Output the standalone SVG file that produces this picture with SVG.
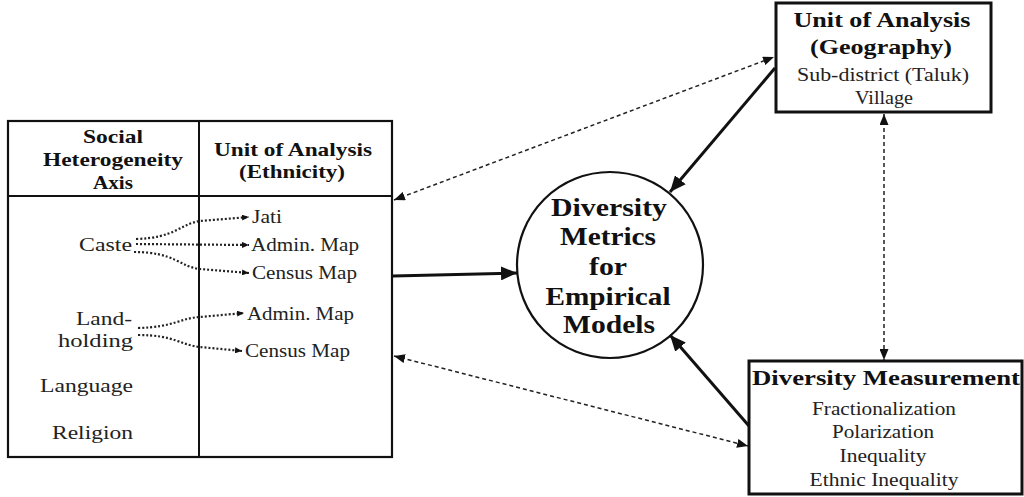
<svg xmlns="http://www.w3.org/2000/svg" width="1024" height="497" viewBox="0 0 1024 497">
<defs>
<style>
.b{font-family:"Liberation Serif","Times New Roman",serif;font-weight:bold;fill:#111}
.r{font-family:"Liberation Serif","Times New Roman",serif;fill:#222}
.m{text-anchor:middle}
.e{text-anchor:end}
.box{fill:#fff;stroke:#111}
.solid{fill:none;stroke:#111;stroke-width:3}
.dash{fill:none;stroke:#222;stroke-width:1.5;stroke-dasharray:4 3}
.dot{fill:none;stroke:#222;stroke-width:2.2;stroke-dasharray:2 2}
</style>
<marker id="hs" markerUnits="userSpaceOnUse" markerWidth="16" markerHeight="14" refX="16" refY="7" orient="auto-start-reverse"><path d="M0,0 L16,7 L0,14 z" fill="#111"/></marker>
<marker id="hd" markerUnits="userSpaceOnUse" markerWidth="11" markerHeight="9" refX="11" refY="4.5" orient="auto-start-reverse"><path d="M0,0 L11,4.5 L0,9 z" fill="#111"/></marker>
<marker id="ht" markerUnits="userSpaceOnUse" markerWidth="7" markerHeight="6" refX="7" refY="3" orient="auto"><path d="M0,0 L7,3 L0,6 z" fill="#111"/></marker>
</defs>
<rect width="1024" height="497" fill="#fff"/>

<g id="table">
<rect class="box" x="8" y="121" width="384" height="336" stroke-width="2.2"/>
<line x1="199" y1="121" x2="199" y2="457" stroke="#111" stroke-width="2"/>
<line x1="8" y1="196" x2="392" y2="196" stroke="#111" stroke-width="2"/>
<g class="b" font-size="19">
<text class="m" x="113" y="143" textLength="60" lengthAdjust="spacingAndGlyphs">Social</text>
<text class="m" x="113" y="166" textLength="140" lengthAdjust="spacingAndGlyphs">Heterogeneity</text>
<text class="m" x="113" y="189" textLength="40" lengthAdjust="spacingAndGlyphs">Axis</text>
<text class="m" x="293" y="156" textLength="158" lengthAdjust="spacingAndGlyphs">Unit of Analysis</text>
<text class="m" x="292" y="178" textLength="106" lengthAdjust="spacingAndGlyphs">(Ethnicity)</text>
</g>
<g class="r" font-size="19">
<text class="e" x="132" y="251" textLength="53" lengthAdjust="spacingAndGlyphs">Caste</text>
<text class="e" x="132" y="325" textLength="56" lengthAdjust="spacingAndGlyphs">Land-</text>
<text class="e" x="133" y="347" textLength="75" lengthAdjust="spacingAndGlyphs">holding</text>
<text class="e" x="133" y="392" textLength="93" lengthAdjust="spacingAndGlyphs">Language</text>
<text class="e" x="133" y="439" textLength="81" lengthAdjust="spacingAndGlyphs">Religion</text>
<text x="252" y="223" textLength="30" lengthAdjust="spacingAndGlyphs">Jati</text>
<text x="251" y="251" textLength="108" lengthAdjust="spacingAndGlyphs">Admin. Map</text>
<text x="252" y="279" textLength="105" lengthAdjust="spacingAndGlyphs">Census Map</text>
<text x="247" y="320" textLength="107" lengthAdjust="spacingAndGlyphs">Admin. Map</text>
<text x="245" y="357" textLength="105" lengthAdjust="spacingAndGlyphs">Census Map</text>
</g>
<g id="table-links">
<path class="dot" d="M136,239 C175,238 180,224 200,221 L249,217" marker-end="url(#ht)"/>
<path class="dot" d="M136,244 L249,245" marker-end="url(#ht)"/>
<path class="dot" d="M134,252 C175,252 180,267 200,269 L249,273" marker-end="url(#ht)"/>
<path class="dot" d="M138,328 C175,327 180,318 200,317 L244,313" marker-end="url(#ht)"/>
<path class="dot" d="M138,335 C175,335 180,345 200,347 L242,351" marker-end="url(#ht)"/>
</g>
</g>

<g id="metrics">
<circle cx="610" cy="265" r="93" fill="#fff" stroke="#111" stroke-width="2.2"/>
<g class="b m" font-size="25">
<text x="609" y="216" textLength="116" lengthAdjust="spacingAndGlyphs">Diversity</text>
<text x="608" y="245" textLength="96" lengthAdjust="spacingAndGlyphs">Metrics</text>
<text x="608" y="275" textLength="38" lengthAdjust="spacingAndGlyphs">for</text>
<text x="608" y="305" textLength="125" lengthAdjust="spacingAndGlyphs">Empirical</text>
<text x="609" y="333" textLength="92" lengthAdjust="spacingAndGlyphs">Models</text>
</g>
</g>

<g id="geography">
<rect class="box" x="776" y="3" width="215" height="109" stroke-width="3"/>
<g class="b m" font-size="21">
<text x="882" y="27" textLength="177" lengthAdjust="spacingAndGlyphs">Unit of Analysis</text>
<text x="881" y="54" textLength="142" lengthAdjust="spacingAndGlyphs">(Geography)</text>
</g>
<g class="r m" font-size="19">
<text x="883" y="81" textLength="172" lengthAdjust="spacingAndGlyphs">Sub-district (Taluk)</text>
<text x="884" y="104" textLength="58" lengthAdjust="spacingAndGlyphs">Village</text>
</g>
</g>

<g id="measurement">
<rect class="box" x="749" y="361" width="273" height="133" stroke-width="3"/>
<text class="b m" font-size="21" x="886" y="385" textLength="268" lengthAdjust="spacingAndGlyphs">Diversity Measurement</text>
<g class="r m" font-size="19">
<text x="884" y="415" textLength="144" lengthAdjust="spacingAndGlyphs">Fractionalization</text>
<text x="883" y="438" textLength="102" lengthAdjust="spacingAndGlyphs">Polarization</text>
<text x="883" y="462" textLength="87" lengthAdjust="spacingAndGlyphs">Inequality</text>
<text x="884" y="486" textLength="149" lengthAdjust="spacingAndGlyphs">Ethnic Inequality</text>
</g>
</g>

<g id="connectors">
<path class="dash" d="M394,200 L774,57" marker-start="url(#hd)" marker-end="url(#hd)"/>
<path class="solid" d="M775,68 L670,192" marker-end="url(#hs)"/>
<path class="solid" d="M393,276 L517,273" marker-end="url(#hs)"/>
<path class="solid" d="M749,426 L670,335" marker-end="url(#hs)"/>
<path class="dash" d="M394,356 L748,446" marker-start="url(#hd)" marker-end="url(#hd)"/>
<path class="dash" d="M884,114 L884,360" marker-start="url(#hd)" marker-end="url(#hd)"/>
</g>
</svg>
